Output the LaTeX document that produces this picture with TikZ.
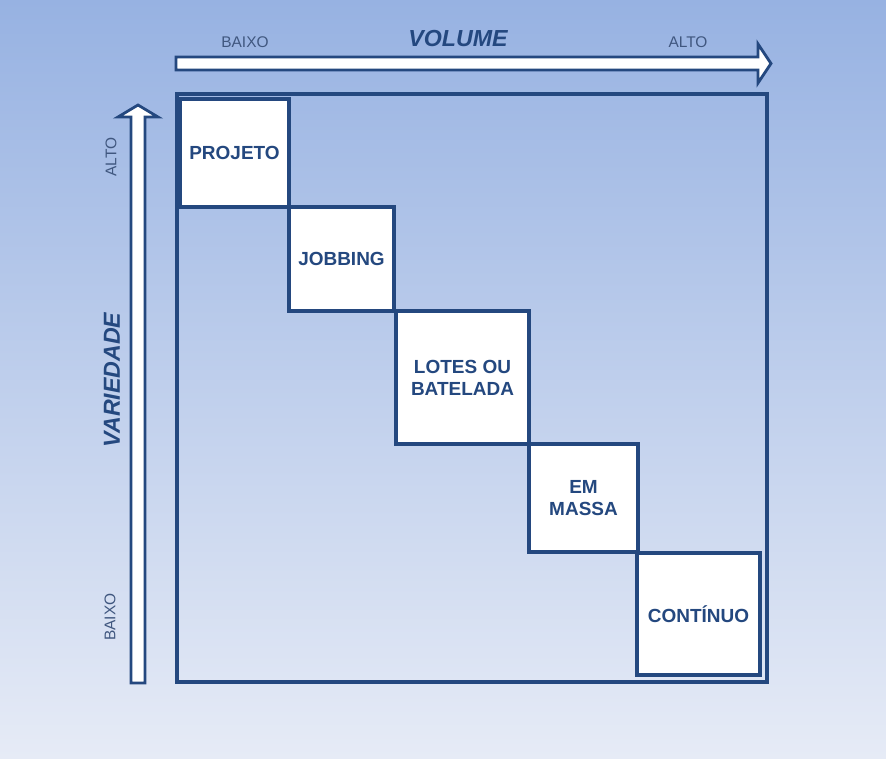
\documentclass[tikz,border=0pt]{standalone}
\usepackage{fontspec}
\setmainfont{Liberation Sans}
\setsansfont{Liberation Sans}
\usepackage{tikz}
\usetikzlibrary{calc}
\definecolor{navy}{HTML}{24487F}
\definecolor{bgtop}{HTML}{97B2E2}
\definecolor{bgbottom}{HTML}{E6EBF6}
\definecolor{labelgray}{HTML}{40577F}

\begin{document}
\begin{tikzpicture}[x=0.025cm, y=-0.025cm,
    every node/.style={font=\sffamily},
    caixa/.style={draw=navy, line width=2.3pt, fill=white, text=navy, align=center,
                  inner sep=0pt, font=\sffamily\bfseries\fontsize{13.5}{15.6}\selectfont},
    eixo/.style={draw=navy, line width=2pt, fill=white, line join=miter},
    rotulo/.style={text=labelgray, font=\sffamily\fontsize{11}{13}\selectfont},
    titulo/.style={text=navy, font=\sffamily\bfseries\itshape\fontsize{16.5}{19}\selectfont}]

  % Background
  \fill[top color=bgtop, bottom color=bgbottom] (0,0) rectangle (886,758);
  \useasboundingbox (0,0) rectangle (886,758);

  % Outer frame
  \draw[navy, line width=2.3pt] (177,94) rectangle (767,682);

  % Helper macro: \caixa{name}{x_left}{y_top}{x_right}{y_bottom}{label}
  \def\caixa#1#2#3#4#5#6{%
    \pgfmathsetmacro{\cx}{(#2+#4)/2}
    \pgfmathsetmacro{\cy}{(#3+#5)/2}
    \pgfmathsetmacro{\cw}{(#4-#2)*0.025}
    \pgfmathsetmacro{\ch}{(#5-#3)*0.025}
    \node[caixa, minimum width=\cw cm, minimum height=\ch cm] (#1) at (\cx,\cy) {#6};
  }

  \caixa{projeto}{180}{99}{289}{207}{PROJETO}
  \caixa{jobbing}{289}{207}{394}{311}{JOBBING}
  \caixa{lotes}{396}{311}{529}{444}{LOTES OU\\BATELADA}
  \caixa{massa}{529}{444}{638}{552}{EM\\MASSA}
  \caixa{continuo}{637}{553}{760}{675}{CONTÍNUO}

  % Volume axis
  \filldraw[eixo] (176,57) -- (758,57) -- (758,44) -- (771,63.5) -- (758,83)
    -- (758,70) -- (176,70) -- cycle;
  \node[rotulo] (volbaixo) at (245,42) {BAIXO};
  \node[titulo] (volume) at (458,39) {VOLUME};
  \node[rotulo] (volalto) at (688,42) {ALTO};

  % Variedade axis
  \filldraw[eixo] (131,683) -- (131,117) -- (118,117) -- (138,105) -- (158,117)
    -- (145,117) -- (145,683) -- cycle;
  \node[rotulo, rotate=90] (varalto) at (111,157) {ALTO};
  \node[titulo, rotate=90] (variedade) at (112,380) {VARIEDADE};
  \node[rotulo, rotate=90] (varbaixo) at (110,617) {BAIXO};
\end{tikzpicture}
\end{document}
